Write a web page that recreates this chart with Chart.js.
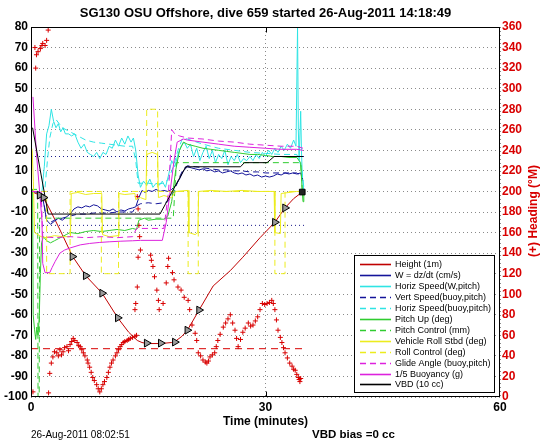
<!DOCTYPE html>
<html>
<head>
<meta charset="utf-8">
<script src="https://cdn.jsdelivr.net/npm/chart.js@4"></script>
<style>
html,body{margin:0;padding:0;background:#fff;}
#wrap{width:546px;height:442px;position:relative;}
</style>
</head>
<body>
<div id="wrap"><canvas id="c" width="546" height="442"></canvas></div>
<script>
// ---------------- DATA (time in minutes, value) ----------------
const titleText = 'SG130 OSU Offshore, dive 659 started 26-Aug-2011 14:18:49';
const xTicks = [0, 30, 60];
const leftRange = [-100, 80];
const rightRange = [0, 360];

const heightDepth = [[0,0],[0.5,-0.8],[1.0,-1.6],[1.5,-3],[2.0,-5.8],[2.5,-9.5],[3.1,-14],[4.0,-21],[5.3,-31.5],[7.0,-41],[9.1,-49.5],[11.1,-61.5],[12.5,-68.5],[13.6,-72.5],[14.2,-73.5],[14.8,-74],[16.6,-74],[18.0,-73.5],[18.6,-72.5],[19.3,-70.5],[20.0,-67.5],[20.7,-63],[21.5,-57.7],[23.3,-46],[25.5,-38.5],[27.1,-32],[29.3,-22.5],[31.2,-15],[32.5,-8],[33.6,-3.5],[34.7,-0.3]];
const depthMarks = [[1.1,-1.8],[1.6,-3],[5.3,-31.7],[7.0,-41],[9.1,-49.5],[11.1,-61.5],[14.8,-73.8],[16.6,-73.8],[18.4,-73.3],[20.0,-67.5],[21.5,-57.7],[31.2,-15],[32.5,-8]];
const depthEnd = [[34.7,-0.3]];

const headingDeg = [[0.25,5],[0.5,340],[0.6,320],[0.7,333],[0.9,336],[1.2,339],[1.4,342],[1.5,344],[1.8,342],[2.0,347],[2.2,357],[2.25,4],
 [2.4,23],[2.6,33],[2.8,39],[3.0,44],[3.3,43],[3.5,40],[3.7,46],[3.9,41],[4.1,44],[4.3,48],[4.6,49],[4.8,45],[5.0,51],[5.2,54],[5.4,57],[5.6,55],[5.9,53],[6.1,50],[6.3,49],[6.5,46],[6.7,43],[6.9,40],[7.2,36],[7.3,33],[7.5,29],[7.7,24],[7.9,19],[8.1,16],[8.4,12],[8.6,8],[8.8,5],[9.0,8],[9.2,12],[9.4,15],[9.7,19],[9.9,24],[10.1,29],[10.3,33],[10.5,36],[10.8,40],[11.0,43],[11.2,46],[11.4,49],[11.6,51],[11.8,53],[12.0,54],[12.3,55],[12.5,56],[12.7,57],[13.0,58],[13.3,59],[13.5,60],
 [13.6,195],[13.7,183],[13.8,167],[13.9,156],[14.0,143],[13.7,136],[13.6,107],[13.4,91],[13.3,85],
 [15.3,138],[15.4,133],[15.6,127],[15.8,117],[16.1,104],[16.3,94],[16.4,85],[16.9,91],[17.3,111],[17.5,127],[17.6,135],[18.1,121],[18.3,114],[18.8,107],[19.2,104],[19.6,97],[20.1,94],[20.3,85],
 [20.6,70],[21.0,62],[21.2,55],[21.4,43],[21.7,40],[22.0,36],[22.3,34],[22.5,33],[22.7,35],[22.9,39],[23.2,41],[23.5,43],[23.7,49],[23.9,55],[24.2,61],[24.6,68],[24.9,72],[25.2,76],[25.5,80],[25.8,72],[26.1,65],[26.3,57],[26.5,49],[26.8,56],[27.1,63],[27.4,67],[27.8,72],[28.1,69],[28.4,70],[28.7,74],[29.0,78],[29.3,85],[29.6,91],[29.9,90],[30.2,91],[30.5,92],[30.8,94],[31.0,91],[31.2,85],[31.4,75],[31.6,65],[31.9,58],[32.1,53],[32.3,48],[32.5,43],[32.8,38],[33.1,33],[33.4,30],[33.6,27],[33.8,26],[34.0,22],[34.2,19],[34.3,17],[34.4,15],[34.5,18]];
const targetHeading = [[0,47],[34.8,47]];

const wSpeed = [[0,0],[1.0,-0.5],[1.5,-3],[2.0,-14],[2.5,-16],[3.0,-14.5],[3.5,-13],[4.0,-14],[4.5,-12.5],[5.0,-11],[5.5,-8.5],[6.0,-7.5],[6.5,-8],[7.0,-7],[7.5,-7.5],[8.0,-6.5],[8.5,-7],[9.0,-8.5],[9.5,-9],[10.0,-9.5],[10.5,-8.5],[11.0,-10],[11.5,-9],[12.0,-9.5],[12.5,-8.5],[13.0,-8],[13.4,-7.5],[13.8,-3],[14.2,0.5],[14.6,-0.5],[15.0,0.5],[15.5,0],[16.0,1],[16.5,0],[17.0,0.5],[17.5,0],[18.0,1],[18.5,3],[19.0,6],[19.5,10],[20.0,12],[20.5,11.5],[21.0,11],[21.5,10.5],[22.0,11],[22.5,10],[23.0,10.5],[23.5,9.5],[24.0,10],[24.5,9],[25.0,9.5],[25.5,10],[26.0,9],[26.5,8.5],[27.0,9],[27.5,8],[28.0,8.5],[28.5,7.5],[29.0,8],[29.5,7],[30.0,7.5],[30.5,7],[31.0,7.5],[31.5,8.5],[32.0,8],[32.5,9],[33.0,8.5],[33.5,9],[34.0,8.5],[34.5,9],[34.8,5]];
const vertSpeedBuoy = [[1.5,-2],[2.0,-14],[2.5,-15],[3,-14],[4,-13],[5,-12],[6,-11],[7,-11],[8,-10.5],[9,-10.5],[10,-10.5],[11,-10],[12,-10],[13,-10],[13.5,-7],[14,-6],[15,-5.5],[16,-6],[17,-5.5],[17.5,-5],[18,-2],[18.5,2],[19,7],[19.5,11],[20,12.5],[21,12],[22,11.5],[23,11],[24,10.5],[25,10.5],[26,10],[27,10],[28,9.5],[29,9.5],[30,9],[31,9],[32,9],[33,9],[34,9],[34.8,6]];
const horizSpeedW = [[1.4,0],[1.7,12],[2.0,28],[2.3,32],[2.6,40],[2.9,34],[3.2,31],[3.5,33],[3.8,29],[4.1,31],[4.4,28],[4.8,28],[5.2,27],[5.6,28],[6.0,24],[6.4,21],[6.8,23],[7.2,19],[7.6,18],[8.0,17],[8.4,19],[8.8,16],[9.2,19],[9.6,18],[10.0,22],[10.4,21],[10.8,25],[11.2,22],[11.6,26],[12.0,23],[12.4,27],[12.8,24],[13.1,26],[13.4,20],[13.7,8],[14.0,2],[14.4,5],[14.8,3],[15.2,6],[15.6,2],[16.0,4],[16.4,3],[16.8,5],[17.2,2],[17.6,8],[18.0,15],[18.4,12],[18.8,18],[19.2,22],[19.6,24],[20.0,21],[20.4,23],[20.8,17],[21.2,21],[21.6,15],[22.0,19],[22.4,22],[22.8,16],[23.2,20],[23.6,14],[24.0,18],[24.4,16],[24.8,20],[25.2,13],[25.6,17],[26.0,15],[26.4,18],[26.8,14],[27.2,16],[27.6,15],[28.0,17],[28.4,15],[28.8,18],[29.2,16],[29.6,19],[30.0,17],[30.4,20],[30.8,18],[31.2,21],[31.6,19],[32.0,22],[32.4,20],[32.8,23],[33.2,21],[33.6,25],[33.9,22],[34.1,80],[34.2,30],[34.3,15],[34.5,39],[34.6,20],[34.7,8],[34.9,0]];
const horizSpeedBuoy = [[1.8,2],[2.1,15],[2.4,26],[2.8,33],[3.2,35],[3.6,33],[4,31],[5,29],[6,27],[7,25],[8,24],[9,23.5],[10,23],[11,22.5],[12,22],[13,22],[13.4,15],[13.7,4],[15,4],[16,3.5],[17,4],[17.6,6],[18.2,12],[18.8,20],[19.4,26],[20,25.5],[22,23],[24,21],[26,20],[28,19],[30,18.5],[32,18],[34,18],[34.6,12],[34.9,2]];
const pitchUp = [[0,0],[0.2,1],[0.28,-60],[0.45,-67],[0.6,-72],[0.75,-66],[0.9,-70],[1.05,-62],[1.2,-40],[1.35,-25],[1.6,-22],[2.0,-24],[2.5,-25],[3.0,-24],[3.5,-23],[4.0,-22],[4.5,-21],[5.0,-20],[6,-20.5],[7,-19.5],[8,-19],[9,-19.5],[10,-19],[11,-18.5],[12,-19],[13,-18],[13.5,-18.5],[13.8,-14],[14.5,-13],[15,-14],[16,-13.5],[17,-13.5],[17.5,-12],[18,-5],[18.5,10],[19,20],[19.5,24],[20,23],[21,22],[22,21],[23,20.5],[24,20],[25,19.5],[26,19],[27,18.5],[28,18],[29,18],[30,17.5],[31,17],[32,17],[33,16.5],[34,16.5],[34.5,14],[34.7,0],[34.8,-5],[34.9,0]];
const pitchControl = [[0,1],[0.85,1],[0.9,-100],[1.05,-100],[1.1,-13],[13.5,-13],[18.2,-13],[18.6,14],[34.5,14],[34.7,1]];
const rollStbd = [[0,22],[0.15,20],[0.3,5],[0.45,-20],[1.3,-22],[2,-22.5],[3,-21.5],[4,-22],[5.05,-22],[5.15,-1],[6,-0.5],[7,-1.5],[8,-1],[9.05,-1],[9.15,-21],[10,-22],[11.15,-21.5],[11.25,-1],[12,-1.5],[13.3,-1],[13.4,-4],[14,-3],[14.7,-4],[14.8,18],[15.5,19],[16.2,18],[16.3,-3],[17,-2],[18,-3],[18.5,0],[20.1,0.5],[20.2,-20],[21,-21],[21.35,-20],[21.45,0],[23,0.5],[25,0],[27,0.5],[29,0],[31.1,0],[31.2,-20],[31.9,-20.5],[32.0,-1],[33,-0.5],[34,0],[34.8,0]];
const rollControl = [[0,0],[2.0,0],[2.0,-40],[5.0,-40],[5.0,0],[9.0,0],[9.0,-40],[11.2,-40],[11.2,0],[14.8,0],[14.8,40],[16.2,40],[16.2,0],[20.1,0],[20.1,-40],[21.4,-40],[21.4,0],[31.2,0],[31.2,-40],[32.5,-40],[32.5,0],[34.8,0]];
const glideAngle = [[0,0],[1.3,0],[1.5,-22],[3,-22.5],[5,-22],[7,-22.5],[9,-22],[11,-22.5],[13,-22],[13.5,-18],[17,-18],[17.6,0],[18.0,30],[18.4,28],[19,27],[20,26],[22,25.5],[24,24.5],[26,24],[28,23],[30,22.5],[32,22],[34,22],[34.8,21]];
const buoyancyFifth = [[0.25,46],[0.7,18.5],[1.4,-14],[1.5,-35],[1.8,-39.5],[2.4,-39.5],[2.7,-37],[3.1,-34],[3.7,-30],[4.3,-28.5],[5,-27.5],[6.3,-26],[7.5,-25.3],[8.8,-24.8],[10,-24.5],[11.5,-24.2],[13,-24],[14,-23.8],[16.8,-23.8],[17.3,-15],[17.8,0],[18.3,15],[18.7,24],[19.5,25.5],[20,25],[22,24],[24,23],[26,22],[28,21.5],[30,21],[32,20.5],[34,20.5],[34.8,20]];
const vbd = [[0.2,31],[2.2,-11],[16.5,-11],[19.8,12],[26.8,12],[27.3,14],[30.2,14],[31.1,17],[34.8,17]];
const wLimitUp = [[0,17],[35,17]];
const wLimitDown = [[0,-16.5],[35,-16.5]];

const legendLabels = ['Height (1m)','W = dz/dt (cm/s)','Horiz Speed(W,pitch)','Vert Speed(buoy,pitch)','Horiz Speed(buoy,pitch)','Pitch Up (deg)','Pitch Control (mm)','Vehicle Roll Stbd (deg)','Roll Control (deg)','Glide Angle (buoy,pitch)','1/5 Buoyancy (g)','VBD (10 cc)'];

// ---------------- CHART ----------------
const FONT = '"Liberation Sans", Arial, Helvetica, sans-serif';
const C = {red:'#d80000', dred:'#c00000', blue:'#14149a', cyan:'#2ee4e4', green:'#30cc30', yellow:'#ecec1e', magenta:'#dd22dd', black:'#000000'};
const DASH = [6,4];
function xy(p){ return p.map(v => ({x:v[0], y:v[1]})); }
function ln(label, pairs, color, extra){
  return Object.assign({label:label, data:xy(pairs), borderColor:color, backgroundColor:color, borderWidth:1, pointRadius:0, tension:0, fill:false, yAxisID:'y'}, extra||{});
}

const datasets = [
  ln('depthMarks', depthMarks, '#000', {showLine:false, pointStyle:'triangle', rotation:90, pointRadius:4.5, pointBorderColor:'#000', pointBackgroundColor:'#9a9a9a', pointBorderWidth:1}),
  ln('depthEnd', depthEnd, '#000', {showLine:false, pointStyle:'rect', pointRadius:4, pointBorderColor:'#000', pointBackgroundColor:'#222'}),
  ln('VBD (10 cc)', vbd, C.black),
  ln('1/5 Buoyancy (g)', buoyancyFifth, C.magenta),
  ln('Glide Angle (buoy,pitch)', glideAngle, C.magenta, {borderDash:DASH}),
  ln('Roll Control (deg)', rollControl, C.yellow, {borderDash:DASH}),
  ln('Vehicle Roll Stbd (deg)', rollStbd, C.yellow),
  ln('Pitch Control (mm)', pitchControl, C.green, {borderDash:DASH}),
  ln('Pitch Up (deg)', pitchUp, C.green),
  ln('Horiz Speed(buoy,pitch)', horizSpeedBuoy, C.cyan, {borderDash:DASH}),
  ln('Vert Speed(buoy,pitch)', vertSpeedBuoy, C.blue, {borderDash:DASH}),
  ln('Horiz Speed(W,pitch)', horizSpeedW, C.cyan),
  ln('W = dz/dt (cm/s)', wSpeed, C.blue),
  ln('Height (1m)', heightDepth, C.dred),
  ln('heading', headingDeg, C.red, {showLine:false, pointStyle:'cross', pointRadius:2.5, pointBorderWidth:1, pointBorderColor:C.red, yAxisID:'y2'}),
  ln('targetHeading', targetHeading, C.red, {borderDash:[7,5], yAxisID:'y2'}),
  ln('wUp', wLimitUp, '#1a1a8a', {borderDash:[1,3]}),
  ln('wDown', wLimitDown, '#1a1a8a', {borderDash:[1,3]})
];

const decor = {
  id:'decor',
  afterDatasetsDraw(chart){
    const ctx = chart.ctx, a = chart.chartArea;
    ctx.save();
    ctx.strokeStyle = '#000'; ctx.lineWidth = 1;
    const L = Math.round(a.left)+0.5, T = Math.round(a.top)+0.5, R = Math.round(a.right)-0.5, B = Math.round(a.bottom)-0.5;
    ctx.strokeRect(L, T, R-L, B-T);
    // small inward ticks at x = 30
    const xs = chart.scales.x;
    const px = Math.round(xs.getPixelForValue(xTicks[1]))+0.5;
    ctx.beginPath(); ctx.moveTo(px, T); ctx.lineTo(px, T+5); ctx.moveTo(px, B); ctx.lineTo(px, B-5); ctx.stroke();
    ctx.restore();
  },
  afterDraw(chart){
    const ctx = chart.ctx, a = chart.chartArea;
    ctx.save();
    // legend box
    const bx = 354, by = 255, bw = 140, bh = 137;
    ctx.fillStyle = '#fff'; ctx.fillRect(bx, by, bw, bh);
    ctx.strokeStyle = '#000'; ctx.lineWidth = 1; ctx.strokeRect(bx+0.5, by+0.5, bw, bh);
    ctx.font = '9px ' + FONT; ctx.textBaseline = 'middle'; ctx.textAlign = 'left';
    legendLabels.forEach((lab, i) => {
      const ds = chart.data.datasets.find(d => d.label === lab);
      const y = Math.round(264 + i*10.95) + 0.5;
      ctx.strokeStyle = ds.borderColor; ctx.lineWidth = 1.6;
      ctx.setLineDash(ds.borderDash || []);
      ctx.beginPath(); ctx.moveTo(360, y); ctx.lineTo(391, y); ctx.stroke();
      ctx.setLineDash([]);
      ctx.fillStyle = '#000'; ctx.fillText(lab, 395, y);
    });
    // right axis title
    ctx.save();
    ctx.translate(534, 211); ctx.rotate(-Math.PI/2);
    ctx.fillStyle = C.red; ctx.font = 'bold 12px ' + FONT; ctx.textAlign = 'center';
    ctx.fillText('(+) Heading (\u00B0M)', 0, 0);
    ctx.restore();
    // bottom texts
    ctx.fillStyle = '#000'; ctx.textAlign = 'left';
    ctx.font = '10px ' + FONT; ctx.fillText('26-Aug-2011 08:02:51', 31, 435);
    ctx.font = 'bold 11.5px ' + FONT; ctx.fillText('VBD bias =0 cc', 312, 435);
    ctx.restore();
  }
};

new Chart(document.getElementById('c'), {
  type:'line',
  data:{datasets:datasets},
  plugins:[decor],
  options:{
    responsive:false, animation:false, devicePixelRatio:1, events:[],
    layout:{padding:0},
    plugins:{
      legend:{display:false}, tooltip:{enabled:false},
      title:{display:true, text:titleText, fullSize:false, color:'#000', font:{family:FONT, size:13, weight:'bold'}, padding:{top:6, bottom:5.4}}
    },
    scales:{
      x:{type:'linear', position:'bottom', min:xTicks[0], max:xTicks[2],
         afterBuildTicks(s){ s.ticks = xTicks.map(v => ({value:v})); },
         afterFit(s){ s.height = 45; },
         ticks:{color:'#000', font:{family:FONT, size:12, weight:'bold'}, padding:3, maxRotation:0, autoSkip:false},
         grid:{color:'#8a8a8a', lineWidth:1, drawTicks:false},
         border:{display:false, dash:[1,3]},
         title:{display:true, text:'Time (minutes)', color:'#000', font:{family:FONT, size:12, weight:'bold'}, padding:{top:0, bottom:12.8}}},
      y:{type:'linear', position:'left', min:leftRange[0], max:leftRange[1],
         afterFit(s){ s.width = 31; },
         ticks:{stepSize:10, color:'#000', font:{family:FONT, size:12, weight:'bold'}, padding:3},
         grid:{color:'#8a8a8a', lineWidth:1, drawTicks:false},
         border:{display:false, dash:[1,3]}},
      y2:{type:'linear', position:'right', min:rightRange[0], max:rightRange[1],
         afterFit(s){ s.width = 46; },
         ticks:{stepSize:20, color:C.red, font:{family:FONT, size:12, weight:'bold'}, padding:2},
         grid:{drawOnChartArea:false, drawTicks:false},
         border:{display:false}}
    }
  }
});
</script>
</body>
</html>
